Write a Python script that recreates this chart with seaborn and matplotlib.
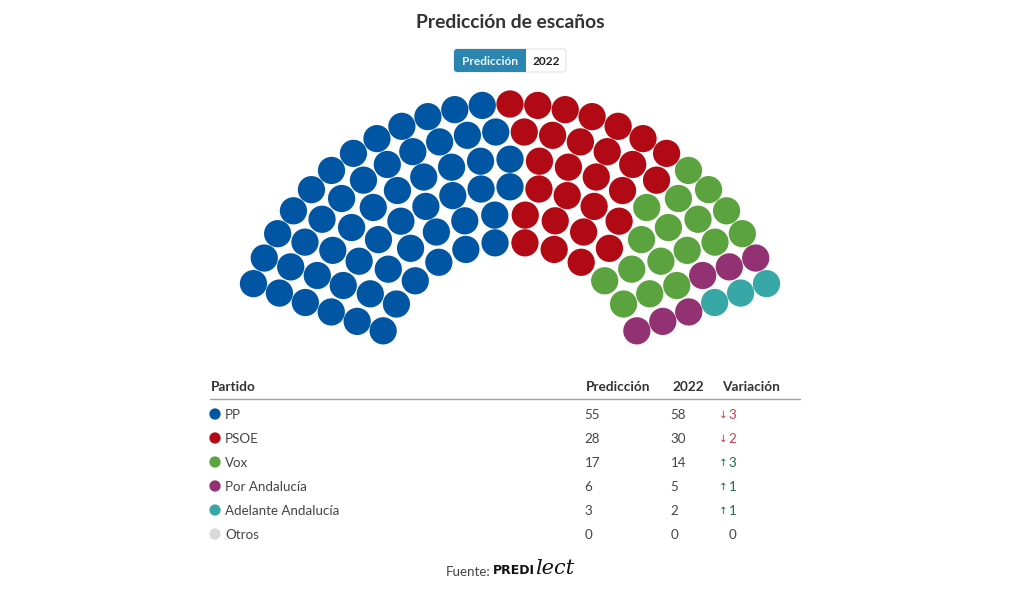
import numpy as np
import pandas as pd
import matplotlib
matplotlib.use("Agg")
import matplotlib.pyplot as plt
from matplotlib.patches import FancyBboxPatch, Rectangle
import seaborn as sns

parties = ["PP", "PSOE", "Vox", "Por Andalucía", "Adelante Andalucía", "Otros"]
pred = [55, 28, 17, 6, 3, 0]
prev = [58, 30, 14, 5, 2, 0]
colors = ["#0056a3", "#b20a14", "#5ba33e", "#933272", "#38a8a6", "#d9d9dc"]
row_seats = [12, 14, 17, 19, 22, 25]

sns.set_theme(style="white")
plt.rcParams["font.family"] = ["Lato", "DejaVu Sans"]

fig = plt.figure(figsize=(10.2, 5.94), dpi=100)
ax = fig.add_axes([0, 0, 1, 1])

# hemicycle layout: seats sorted by angle, then handed out party by party
rows = []
for i, n in enumerate(row_seats):
    r = 135 + i * 27.6
    ang = np.linspace(160, 20, n)
    for a in ang:
        rows.append((round(a, 4), r))
seats = pd.DataFrame(rows, columns=["angle", "radius"])
seats = seats.sort_values(["angle", "radius"], ascending=[False, True]).reset_index(drop=True)
seats["x"] = 510 + seats["radius"] * np.cos(np.radians(seats["angle"]))
seats["y"] = 377 - seats["radius"] * np.sin(np.radians(seats["angle"]))
seats["party"] = np.repeat(parties, pred)

sns.scatterplot(data=seats, x="x", y="y", hue="party", palette=dict(zip(parties, colors)),
                s=385, linewidth=0, legend=False, ax=ax, clip_on=False)

txt = "#333333"
ax.text(510, 23, "Predicción de escaños", ha="center", va="center", fontsize=13.9, fontweight="bold", color=txt)

# toggle button
ax.add_patch(FancyBboxPatch((454, 49), 112, 23, boxstyle="round,pad=0,rounding_size=3",
                            fc="white", ec="#e4e4e4", lw=0.8))
ax.add_patch(FancyBboxPatch((454, 49), 72, 23, boxstyle="round,pad=0,rounding_size=3",
                            fc="#2a86b0", ec="none"))
ax.add_patch(Rectangle((520, 49), 6, 23, fc="#2a86b0", ec="none"))
ax.text(490, 61.5, "Predicción", ha="center", va="center", fontsize=8.6, fontweight="bold", color="#f0f6fa")
ax.text(546, 61.5, "2022", ha="center", va="center", fontsize=8.6, fontweight="bold", color="#222222")

# table
ax.text(211, 387, "Partido", va="center", fontsize=9.8, fontweight="bold", color=txt)
ax.text(586, 387, "Predicción", va="center", fontsize=9.8, fontweight="bold", color=txt)
ax.text(672, 387, "2022", va="center", fontsize=9.8, fontweight="bold", color=txt)
ax.text(722, 387, "Variación", va="center", fontsize=9.8, fontweight="bold", color=txt)
ax.plot([210, 800], [398.5, 398.5], color="#a0a0a0", lw=1)

table = pd.DataFrame({"party": parties, "x": 215, "y": 414 + 24 * np.arange(len(parties))})
sns.scatterplot(data=table, x="x", y="y", hue="party", palette=dict(zip(parties, colors)),
                s=66, linewidth=0, legend=False, ax=ax)

for i, name in enumerate(parties):
    y = 415 + 24 * i
    ax.text(225, y, name, va="center", fontsize=9.6, color="#444444")
    ax.text(584.5, y, str(pred[i]), va="center", fontsize=9.6, color="#444444")
    ax.text(670.5, y, str(prev[i]), va="center", fontsize=9.6, color="#444444")
    d = pred[i] - prev[i]
    if d == 0:
        ax.text(728.5, y, "0", va="center", fontsize=9.6, color="#444444")
    else:
        c = "#1f6b4a" if d > 0 else "#c0404f"
        ax.text(723, y, "↑" if d > 0 else "↓", ha="center", va="center", fontsize=7.5,
                color=c, family="DejaVu Sans")
        ax.text(728.5, y, str(abs(d)), va="center", fontsize=9.6, color=c)

# source line
ax.text(446, 571.5, "Fuente:", va="center", fontsize=9.6, color="#444444")
ax.text(493, 571, "PREDI", va="center", fontsize=9, fontweight="bold", color="#111111", family="DejaVu Sans")
ax.text(535, 568, "lect", va="center", fontsize=15, style="italic", color="#111111", family="DejaVu Serif")

ax.set_xlim(0, 1020)
ax.set_ylim(594, 0)
ax.axis("off")
fig.savefig("out.png", dpi=100, facecolor="white")
